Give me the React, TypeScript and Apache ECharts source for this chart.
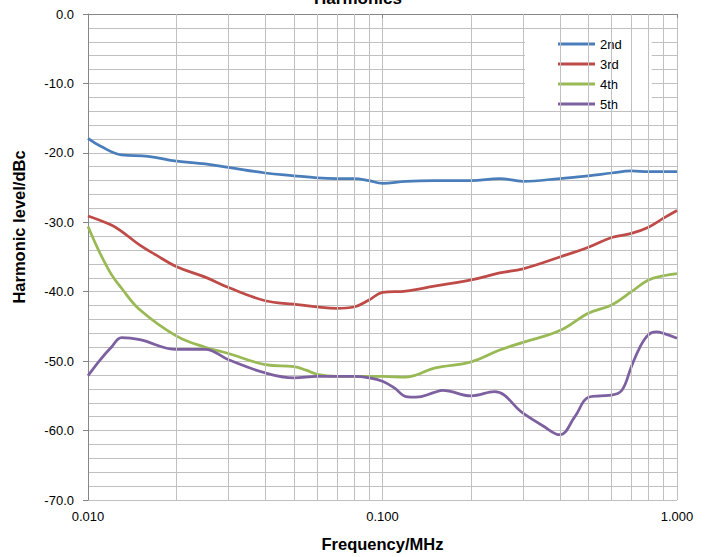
import React, { useEffect, useRef } from "react";
import * as echarts from "echarts";

const seriesNames = ["2nd", "3rd", "4th", "5th"];
const seriesColors = ["#4a7ebb", "#be4b48", "#98b954", "#7d60a0"];

const freq2 = [0.01, 0.011, 0.013, 0.016, 0.02, 0.025, 0.03, 0.04, 0.05, 0.06, 0.07, 0.08, 0.09, 0.1, 0.12, 0.15, 0.2, 0.25, 0.3, 0.4, 0.5, 0.6, 0.7, 0.8, 1.0];
const level2 = [-17.9, -19.0, -20.3, -20.5, -21.2, -21.6, -22.1, -22.9, -23.3, -23.6, -23.7, -23.7, -24.0, -24.4, -24.1, -24.0, -24.0, -23.7, -24.1, -23.7, -23.3, -22.9, -22.6, -22.7, -22.7];

const freq3 = [0.01, 0.012, 0.013, 0.015, 0.017, 0.02, 0.025, 0.03, 0.04, 0.05, 0.06, 0.07, 0.08, 0.09, 0.1, 0.12, 0.15, 0.2, 0.25, 0.3, 0.4, 0.5, 0.6, 0.7, 0.8, 0.9, 1.0];
const level3 = [-29.1, -30.4, -31.3, -33.3, -34.7, -36.4, -37.9, -39.4, -41.3, -41.8, -42.2, -42.4, -42.2, -41.2, -40.1, -39.9, -39.2, -38.3, -37.3, -36.7, -35.0, -33.6, -32.2, -31.6, -30.7, -29.4, -28.3];

const freq4 = [0.01, 0.011, 0.012, 0.013, 0.015, 0.02, 0.025, 0.03, 0.04, 0.05, 0.055, 0.06, 0.07, 0.08, 0.1, 0.12, 0.13, 0.15, 0.2, 0.25, 0.3, 0.4, 0.5, 0.6, 0.7, 0.8, 0.9, 1.0];
const level4 = [-30.6, -34.5, -37.5, -39.5, -42.6, -46.4, -48.0, -48.9, -50.5, -50.8, -51.3, -51.9, -52.2, -52.2, -52.2, -52.3, -52.0, -51.0, -50.1, -48.4, -47.3, -45.6, -43.1, -41.9, -40.0, -38.3, -37.7, -37.4];

const freq5 = [0.01, 0.011, 0.012, 0.013, 0.015, 0.02, 0.025, 0.03, 0.04, 0.05, 0.06, 0.08, 0.09, 0.1, 0.11, 0.12, 0.13, 0.15, 0.16, 0.2, 0.24, 0.3, 0.35, 0.4, 0.45, 0.5, 0.55, 0.6, 0.65, 0.7, 0.75, 0.8, 0.85, 0.9, 1.0];
const level5 = [-52.1, -49.8, -48.0, -46.6, -46.9, -48.3, -48.3, -49.8, -51.7, -52.4, -52.2, -52.2, -52.4, -52.9, -53.9, -55.1, -55.2, -54.5, -54.2, -55.0, -54.4, -57.5, -59.3, -60.6, -58.0, -55.2, -55.0, -54.9, -54.2, -50.8, -47.9, -46.2, -45.8, -46.0, -46.7];

const xMinorGrid = [0.02, 0.03, 0.04, 0.05, 0.06, 0.07, 0.08, 0.09, 0.2, 0.3, 0.4, 0.5, 0.6, 0.7, 0.8, 0.9];

const FONT = "'Liberation Sans', Arial, sans-serif";
const GRID = "#c0c0c0";
const AXIS = "#868686";

function zip(xs: number[], ys: number[]) {
  return xs.map((x, i) => [x, ys[i]]);
}

export default function App() {
  const ref = useRef<HTMLDivElement>(null);
  useEffect(() => {
    if (!ref.current) return;
    const chart = echarts.init(ref.current, null, { renderer: "svg" });
    const all = [
      zip(freq2, level2),
      zip(freq3, level3),
      zip(freq4, level4),
      zip(freq5, level5),
    ];
    chart.setOption({
      animation: false,
      textStyle: { fontFamily: FONT },
      grid: { left: 88, right: 30, top: 14, bottom: 57, containLabel: false },
      graphic: [
        {
          type: "text",
          style: {
            text: "Harmonics",
            x: 358,
            y: 7,
            textAlign: "center",
            textVerticalAlign: "bottom",
            fontFamily: FONT,
            fontSize: 17,
            fontWeight: "bold",
            fill: "#000",
          },
        },
        {
          type: "text",
          x: 19,
          y: 227,
          rotation: Math.PI / 2,
          style: {
            text: "Harmonic level/dBc",
            x: 0,
            y: 0,
            textAlign: "center",
            textVerticalAlign: "middle",
            fontFamily: FONT,
            fontSize: 16.5,
            fontWeight: "bold",
            fill: "#000",
          },
        },
      ],
      legend: {
        orient: "vertical",
        left: 525,
        top: 33,
        data: seriesNames,
        icon: "rect",
        itemWidth: 37,
        itemHeight: 3,
        itemGap: 6,
        backgroundColor: "#fff",
        padding: [4, 30, 0, 33],
        textStyle: { fontFamily: FONT, fontSize: 13, lineHeight: 14, color: "#000" },
      },
      xAxis: {
        type: "log",
        logBase: 10,
        min: 0.01,
        max: 1,
        name: "Frequency/MHz",
        nameLocation: "middle",
        nameGap: 35,
        nameTextStyle: { fontFamily: FONT, fontSize: 16.5, fontWeight: "bold", color: "#000" },
        axisLine: { show: true, lineStyle: { color: AXIS, width: 1 } },
        axisTick: { show: true, length: 4, lineStyle: { color: AXIS } },
        axisLabel: {
          fontFamily: FONT,
          fontSize: 13,
          color: "#000",
          margin: 10,
          formatter: (v: number) => v.toFixed(3),
        },
        splitLine: { show: true, lineStyle: { color: GRID, width: 1 } },
        minorSplitLine: { show: false },
      },
      yAxis: {
        type: "value",
        min: -70,
        max: 0,
        interval: 10,
        axisLine: { show: true, lineStyle: { color: AXIS, width: 1 } },
        axisTick: { show: true, length: 5, lineStyle: { color: AXIS } },
        axisLabel: {
          fontFamily: FONT,
          fontSize: 13,
          color: "#000",
          margin: 14,
          formatter: (v: number) => v.toFixed(1),
        },
        splitLine: { show: true, lineStyle: { color: GRID, width: 1 } },
        minorTick: { show: false, splitNumber: 5 },
        minorSplitLine: { show: true, lineStyle: { color: GRID, width: 1 } },
      },
      series: [
        {
          name: "grid-minor",
          type: "line",
          data: [[0.01, -70]],
          showSymbol: false,
          symbol: "none",
          lineStyle: { width: 0 },
          silent: true,
          z: 1,
          markLine: {
            silent: true,
            symbol: "none",
            label: { show: false },
            lineStyle: { color: GRID, width: 1, type: "solid" },
            emphasis: { disabled: true },
            data: xMinorGrid.map((v) => ({ xAxis: v })),
          },
        },
        ...seriesNames.map((name, i) => ({
          name,
          type: "line",
          data: all[i],
          smooth: 0.4,
          showSymbol: false,
          symbol: "none",
          z: 3,
          itemStyle: { color: seriesColors[i] },
          lineStyle: { color: seriesColors[i], width: 2.75 },
        })),
      ],
    });
    return () => chart.dispose();
  }, []);
  return (
    <div
      ref={ref}
      style={{ position: "fixed", left: 0, top: 0, width: 707, height: 557, background: "#fff" }}
    />
  );
}
